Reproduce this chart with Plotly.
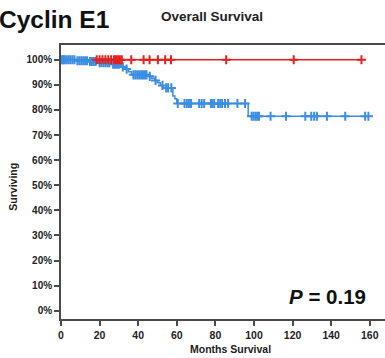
import numpy as np
import plotly.graph_objects as go

# ---- data (months, % surviving) ----
y_ticks = [0, 10, 20, 30, 40, 50, 60, 70, 80, 90, 100]
y_tick_labels = [f"{v}%" for v in y_ticks]
x_ticks = [0, 20, 40, 60, 80, 100, 120, 140, 160]

# low cyclin E1 group (red): no events
red_end = 155.7
red_censor = [18.5, 20, 21.5, 23, 24.5, 26, 27.5, 28.5, 29.5, 30.5, 31.5,
              36.4, 42.8, 45.9, 50.2, 54.0, 57.0, 85.6, 120.6, 155.7]

# high cyclin E1 group (blue): step drops
blue_event_months = [8, 14, 19, 26, 31, 33, 35, 36.5, 45, 47, 48.5, 50, 51.5,
                     53, 58, 59, 60, 97]
blue_event_surv = [99.6, 99.3, 98.8, 98.2, 97.2, 96.3, 95.2, 94.0, 93.4, 92.6,
                   91.8, 90.9, 89.8, 88.8, 85.6, 84.5, 82.6, 77.5]
blue_end = 159.3
blue_censor = [0.5, 1, 1.5, 2, 3, 4, 5, 6, 7, 8.5, 9.5, 10.5, 11.5, 12.5, 13.5,
               15, 16, 17, 18, 20, 21, 22, 23, 24, 25, 27, 28, 29, 30, 32, 34,
               37.5, 38.5, 39.5, 40.5, 41.5, 42.5, 43.5, 44.3, 46, 49, 52.6,
               54.5, 55.5, 57.2, 60.5, 64, 65.2, 66.3, 67.4, 71.6, 72.9, 74.2,
               77.7, 78.5, 79.4, 81.4, 82.5, 83.5, 85, 86.6, 91.4, 95.4, 98.8,
               99.8, 100.8, 101.7, 102.6, 108.6, 116.6, 126.6, 129.7, 131.2,
               132.6, 137.8, 147.3, 157.6, 159.3]

RED = "#e3201c"
BLUE = "#3b8ee2"
AXIS = "#4a4a4a"
FONT = "Liberation Sans, Arial, sans-serif"


def level_at(t, times, levels, start=100.0):
    idx = np.searchsorted(np.asarray(times), t, side="right")
    vals = np.concatenate([[start], levels])
    return vals[idx]


blue_x = [0] + blue_event_months + [blue_end]
blue_y = [100] + blue_event_surv + [blue_event_surv[-1]]
blue_cy = [level_at(t, blue_event_months, blue_event_surv) for t in blue_censor]

fig = go.Figure()

# red survival line
fig.add_trace(go.Scatter(x=[0, red_end], y=[100, 100], mode="lines",
                         line=dict(color=RED, width=1.5), hoverinfo="skip"))
# blue survival line + censor marks
fig.add_trace(go.Scatter(x=blue_x, y=blue_y, mode="lines", line_shape="hv",
                         line=dict(color=BLUE, width=1.5), hoverinfo="skip"))
fig.add_trace(go.Scatter(x=blue_censor, y=blue_cy, mode="markers",
                         marker=dict(symbol="cross-thin", size=6.5,
                                     line=dict(color=BLUE, width=2))))
# red censor marks on top
fig.add_trace(go.Scatter(x=red_censor, y=[100] * len(red_censor), mode="markers",
                         marker=dict(symbol="cross-thin", size=6.5,
                                     line=dict(color=RED, width=2))))

L, T, W, H = 61, 45, 385, 358
PW, PH = W - L, 319 - T


def px(x):
    return (x - L) / PW


def py(y):
    return (319 - y) / PH


annots = [
    dict(text="<b>Cyclin E1</b>", x=px(-3), y=py(19), xanchor="left",
         font=dict(size=24.5, color="#111")),
    dict(text="<b>Overall Survival</b>", x=px(212), y=py(17), xanchor="center",
         font=dict(size=13.5, color="#222")),
    dict(text="<b><i>P</i> = 0.19</b>", x=px(327), y=py(296), xanchor="center",
         font=dict(size=20.5, color="#111")),
    dict(text="<b>Surviving</b>", x=px(13), y=py(186.7), xanchor="center",
         textangle=-90, font=dict(size=10.5, color="#222")),
    dict(text="<b>Months Survival</b>", x=px(230.7), y=py(349), xanchor="center",
         font=dict(size=10.5, color="#222")),
]
for a in annots:
    a.update(xref="paper", yref="paper", yanchor="middle", showarrow=False)

fig.update_layout(
    width=W, height=H,
    margin=dict(l=L, r=0, t=T, b=H - 319, pad=0),
    paper_bgcolor="white", plot_bgcolor="white",
    showlegend=False,
    font=dict(family=FONT, color="#222"),
    annotations=annots,
)
fig.update_xaxes(range=[0, 167.9], tickvals=x_ticks, ticks="outside", ticklen=5,
                 tickwidth=1.5, tickcolor=AXIS, showline=True, linecolor=AXIS,
                 linewidth=1.8, mirror=True, showgrid=False, zeroline=False,
                 tickfont=dict(size=10.5, family=FONT, weight="bold", color="#222"))
fig.update_yaxes(range=[-3.3, 105.9], tickvals=y_ticks, ticktext=y_tick_labels,
                 ticks="outside", ticklen=5, tickwidth=1.5, tickcolor=AXIS,
                 showline=True, linecolor=AXIS, linewidth=1.8, showgrid=False,
                 zeroline=False,
                 tickfont=dict(size=10, family=FONT, weight="bold", color="#222"))

fig.write_html("out.html")
